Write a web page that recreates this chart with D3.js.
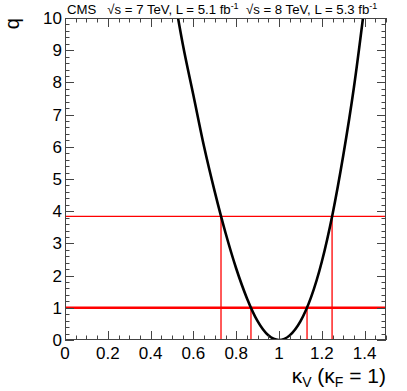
<!DOCTYPE html>
<html>
<head>
<meta charset="utf-8">
<script src="https://cdn.jsdelivr.net/npm/d3@7"></script>
<style>
  body { margin: 0; background: #fff; }
  text { font-family: "Liberation Sans", Arial, sans-serif; white-space: pre; }
</style>
</head>
<body>
<svg id="chart" width="407" height="391"></svg>
<script>
/* data */
const kappa_v = [0.515, 0.55, 0.6, 0.65, 0.7, 0.75, 0.8, 0.85, 0.9, 0.95, 1.0,
  1.05, 1.1, 1.15, 1.2, 1.25, 1.3, 1.35, 1.4];
const q_values = [10.5, 9.2, 7.6, 6.0, 4.6, 3.33, 2.22, 1.30, 0.585, 0.146, 0,
  0.144, 0.578, 1.33, 2.43, 3.90, 5.72, 7.84, 10.4];
const cl_levels = [1, 3.84];
const cl_left = [0.869, 0.729];
const cl_right = [1.131, 1.248];
const x_ticks = [0, 0.2, 0.4, 0.6, 0.8, 1, 1.2, 1.4];
const y_ticks = [0, 1, 2, 3, 4, 5, 6, 7, 8, 9, 10];

/* display parameters */
const frame_l = 65, frame_r = 386, frame_t = 18, frame_b = 340;

let svg = d3.select("#chart");

let x = d3.scaleLinear().domain([0, 1.5]).range([frame_l, frame_r]),
  y = d3.scaleLinear().domain([0, 10]).range([frame_b, frame_t]);

let plot = svg.append("g");

plot.append("clipPath").attr("id", "clip")
  .append("rect")
  .attr("x", frame_l).attr("y", frame_t)
  .attr("width", frame_r - frame_l).attr("height", frame_b - frame_t);

/* red confidence lines */
let red = plot.append("g").attr("stroke", "#ff0000").attr("fill", "none");

cl_levels.forEach((lv, i) => {
  red.append("line")
    .attr("x1", frame_l).attr("x2", frame_r)
    .attr("y1", y(lv)).attr("y2", y(lv))
    .attr("stroke-width", i === 0 ? 2.5 : 1.3);
  [cl_left[i], cl_right[i]].forEach(k => {
    red.append("line")
      .attr("x1", x(k)).attr("x2", x(k))
      .attr("y1", frame_b).attr("y2", y(lv))
      .attr("stroke-width", 1.3);
  });
});

/* likelihood scan */
let line = d3.line()
  .x((d, i) => x(kappa_v[i]))
  .y(d => y(d))
  .curve(d3.curveMonotoneX);

plot.append("path")
  .datum(q_values)
  .attr("clip-path", "url(#clip)")
  .attr("d", line)
  .attr("fill", "none")
  .attr("stroke", "#000")
  .attr("stroke-width", 2.6);

/* ticks, ROOT style: inside the frame on all four sides */
let ticks = svg.append("g").attr("stroke", "#444").attr("stroke-width", 1);

d3.range(0, 1.5001, 0.05).forEach((v, i) => {
  let len = i % 4 === 0 ? 9 : 4.5,
    px = Math.round(x(v)) + 0.5;
  ticks.append("line").attr("x1", px).attr("x2", px)
    .attr("y1", frame_b).attr("y2", frame_b - len);
  ticks.append("line").attr("x1", px).attr("x2", px)
    .attr("y1", frame_t).attr("y2", frame_t + len);
});

d3.range(0, 10.001, 0.2).forEach((v, i) => {
  let len = i % 5 === 0 ? 9 : 4.5,
    py = Math.round(y(v)) + 0.5;
  ticks.append("line").attr("y1", py).attr("y2", py)
    .attr("x1", frame_l).attr("x2", frame_l + len);
  ticks.append("line").attr("y1", py).attr("y2", py)
    .attr("x1", frame_r).attr("x2", frame_r - len);
});

svg.append("rect")
  .attr("x", frame_l + 0.5).attr("y", frame_t + 0.5)
  .attr("width", frame_r - frame_l - 1).attr("height", frame_b - frame_t - 1)
  .attr("fill", "none")
  .attr("stroke", "#444")
  .attr("stroke-width", 1);

/* tick labels */
svg.append("g").selectAll("text")
  .data(x_ticks)
  .join("text")
  .attr("x", d => x(d))
  .attr("y", 359)
  .attr("text-anchor", "middle")
  .attr("font-size", 17)
  .text(d => d);

svg.append("g").selectAll("text")
  .data(y_ticks)
  .join("text")
  .attr("x", 62)
  .attr("y", d => y(d) + 6)
  .attr("text-anchor", "end")
  .attr("font-size", 17)
  .text(d => d);

/* axis titles */
let xt = svg.append("text")
  .attr("x", frame_r)
  .attr("y", 383)
  .attr("text-anchor", "end")
  .attr("font-size", 21);
xt.append("tspan").text("κ");
xt.append("tspan").attr("font-size", 14).attr("dy", 4).text("V");
xt.append("tspan").attr("dy", -4).text(" (κ");
xt.append("tspan").attr("font-size", 14).attr("dy", 4).text("F");
xt.append("tspan").attr("dy", -4).text(" = 1)");

svg.append("text")
  .attr("transform", "translate(19," + frame_t + ") rotate(-90)")
  .attr("text-anchor", "end")
  .attr("font-size", 20)
  .text("q");

/* header */
let hd = svg.append("text")
  .attr("x", 67)
  .attr("y", 14)
  .attr("font-size", 13.2);
hd.append("tspan").text("CMS   √s = 7 TeV, L = 5.1 fb");
hd.append("tspan").attr("font-size", 9).attr("dy", -5).text("-1");
hd.append("tspan").attr("dy", 5).text("  √s = 8 TeV, L = 5.3 fb");
hd.append("tspan").attr("font-size", 9).attr("dy", -5).text("-1");
</script>
</body>
</html>
